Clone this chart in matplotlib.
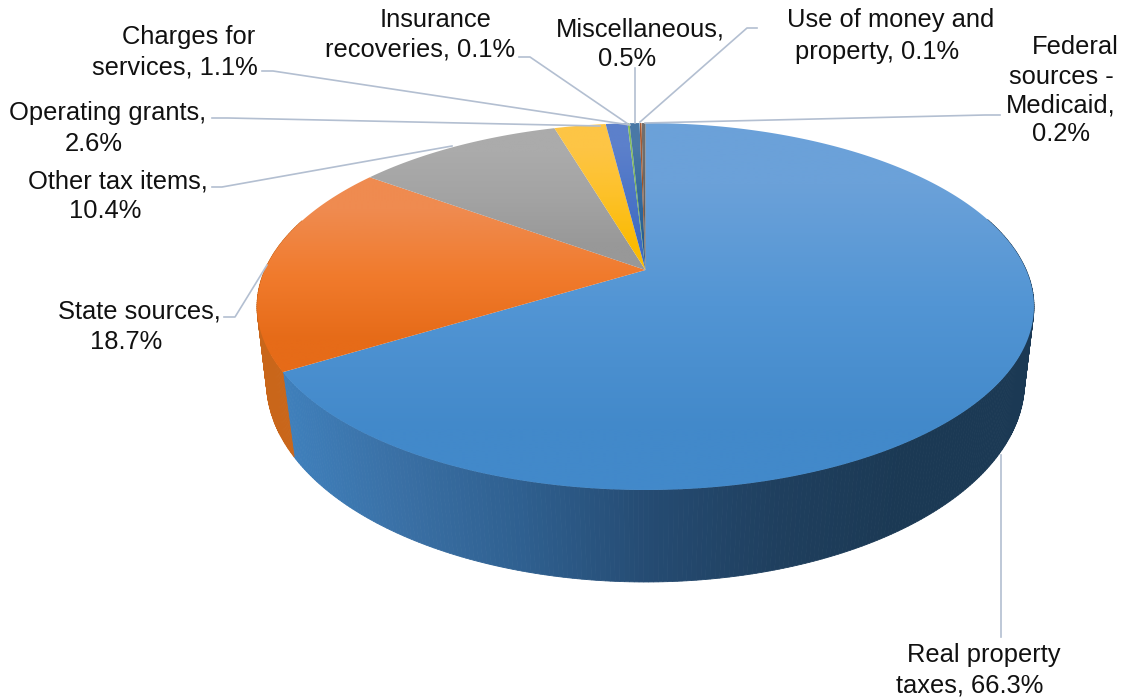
import numpy as np
import matplotlib
matplotlib.use("Agg")
import matplotlib.pyplot as plt
from matplotlib.colors import to_rgb
from matplotlib.patches import Polygon

categories = ["Real property taxes", "State sources", "Other tax items", "Operating grants",
              "Charges for services", "Insurance recoveries", "Miscellaneous",
              "Use of money and property", "Federal sources - Medicaid"]
shares = [66.3, 18.7, 10.4, 2.6, 1.1, 0.1, 0.5, 0.1, 0.2]
top_light = ["#6ba1d9", "#ef8b50", "#ababab", "#fdc545", "#5c80cb", "#82bb5c", "#4a78a6", "#a85a32", "#6f6f6f"]
top_mid = ["#5295d4", "#f17b2d", "#a3a3a3", "#fdc128", "#4c75c7", "#75b24d", "#356a9b", "#a1501f", "#656565"]
top_dark = ["#4289ca", "#e66b18", "#989898", "#fbbb03", "#3e6bc3", "#68a83f", "#245d90", "#9a460d", "#5a5a5a"]
wall_colour = [None, "#c9661a", "#7f7f7f", "#c09000", "#2f5597", "#4e7d2f", "#1b4468", "#6f320a", "#404040"]

labels = [
    ("Charges for", 189, 37), ("services, 1.1%", 175, 67),
    ("Insurance", 436, 20), ("recoveries, 0.1%", 420, 50),
    ("Miscellaneous,", 640, 29), ("0.5%", 627, 59),
    ("Use of money and", 891, 20), ("property, 0.1%", 877, 52),
    ("Federal", 1075, 47), ("sources -", 1061, 77), ("Medicaid,", 1061, 105), ("0.2%", 1061, 134),
    ("Operating grants,", 108, 113), ("2.6%", 94, 144),
    ("Other tax items,", 118, 181), ("10.4%", 105, 211),
    ("State sources,", 139.5, 312), ("18.7%", 126, 342),
    ("Real property", 984, 655), ("taxes, 66.3%", 970, 685),
]
leaders = [
    [(262, 71), (273, 71), (630, 125)],
    [(212, 118), (228, 118), (600, 126)],
    [(212, 187), (222, 187), (452, 146)],
    [(224, 317), (235, 317), (267, 265)],
    [(519, 57), (530, 57), (628, 124)],
    [(635, 68), (635, 123)],
    [(757, 28), (747, 28), (640, 122)],
    [(1000, 115), (985, 115), (645, 123)],
    [(1001, 455), (1001, 637)],
]

CX = 645.5
TOP = dict(A=380.7, B=176.2, c=0.199, y0=270.0)
BOT = dict(A=372.8, B=193.5, c=0.18, y0=346.0)


def rim(theta, p):
    u, v = np.sin(theta), np.cos(theta)
    s = 1 / (1 + p["c"] * v)
    return CX + p["A"] * u * s, p["y0"] - p["B"] * v * s


def wall_blue(x):
    xs = [285, 400, 520, 650, 780, 900, 1040]
    cs = ["#3f80bc", "#3a70a5", "#2f6090", "#254b72", "#1f3f5e", "#1b3954", "#1b3954"]
    arr = np.array([to_rgb(c) for c in cs])
    return tuple(np.interp(x, xs, arr[:, i]) for i in range(3))


fig = plt.figure(figsize=(11.24, 7), dpi=100)
ax = fig.add_axes([0, 0, 1, 1])
ax.axis("off")

edges = np.deg2rad(np.concatenate([[0], np.cumsum(shares)]) * 3.6)

# side wall, front half only
for i in range(len(shares)):
    a, b = edges[i], edges[i + 1]
    n = max(2, int((b - a) / np.deg2rad(0.6)))
    th = np.linspace(a, b, n)
    for t0, t1 in zip(th[:-1], th[1:]):
        if np.cos(0.5 * (t0 + t1)) > 0.3:
            continue
        x0, y0 = rim(t0, TOP); x1, y1 = rim(t1, TOP)
        x2, y2 = rim(t1, BOT); x3, y3 = rim(t0, BOT)
        col = wall_blue(0.25 * (x0 + x1 + x2 + x3)) if wall_colour[i] is None else wall_colour[i]
        ax.fill([x0, x1, x2, x3], [y0, y1, y2, y3], color=col, lw=0.6, zorder=1)

# top face with vertical gradient per slice
for i in range(len(shares)):
    th = np.linspace(edges[i], edges[i + 1], max(3, int((edges[i + 1] - edges[i]) / np.deg2rad(0.5))))
    xs, ys = rim(th, TOP)
    xs = np.r_[CX, xs]
    ys = np.r_[TOP["y0"], ys]
    poly = Polygon(np.c_[xs, ys], closed=True, transform=ax.transData, fc="none", ec="none")
    ax.add_patch(poly)
    grad = np.array([[to_rgb(top_light[i])], [to_rgb(top_mid[i])], [to_rgb(top_dark[i])]])
    im = ax.imshow(grad, extent=(xs.min(), xs.max(), ys.max(), ys.min()), aspect="auto",
                   interpolation="bilinear", zorder=2, origin="upper")
    im.set_clip_path(poly)

for pts in leaders:
    p = np.array(pts)
    ax.plot(p[:, 0], p[:, 1], color="#b3bfd1", lw=1.2, zorder=3, solid_joinstyle="round")

for txt, x, y in labels:
    ax.text(x, y, txt, ha="center", va="center", fontsize=18.4,
            family="Liberation Sans", color="#111111", zorder=4)

ax.set_xlim(0, 1124)
ax.set_ylim(700, 0)
ax.set_aspect("auto")
fig.savefig("out.png", dpi=100, facecolor="white")
